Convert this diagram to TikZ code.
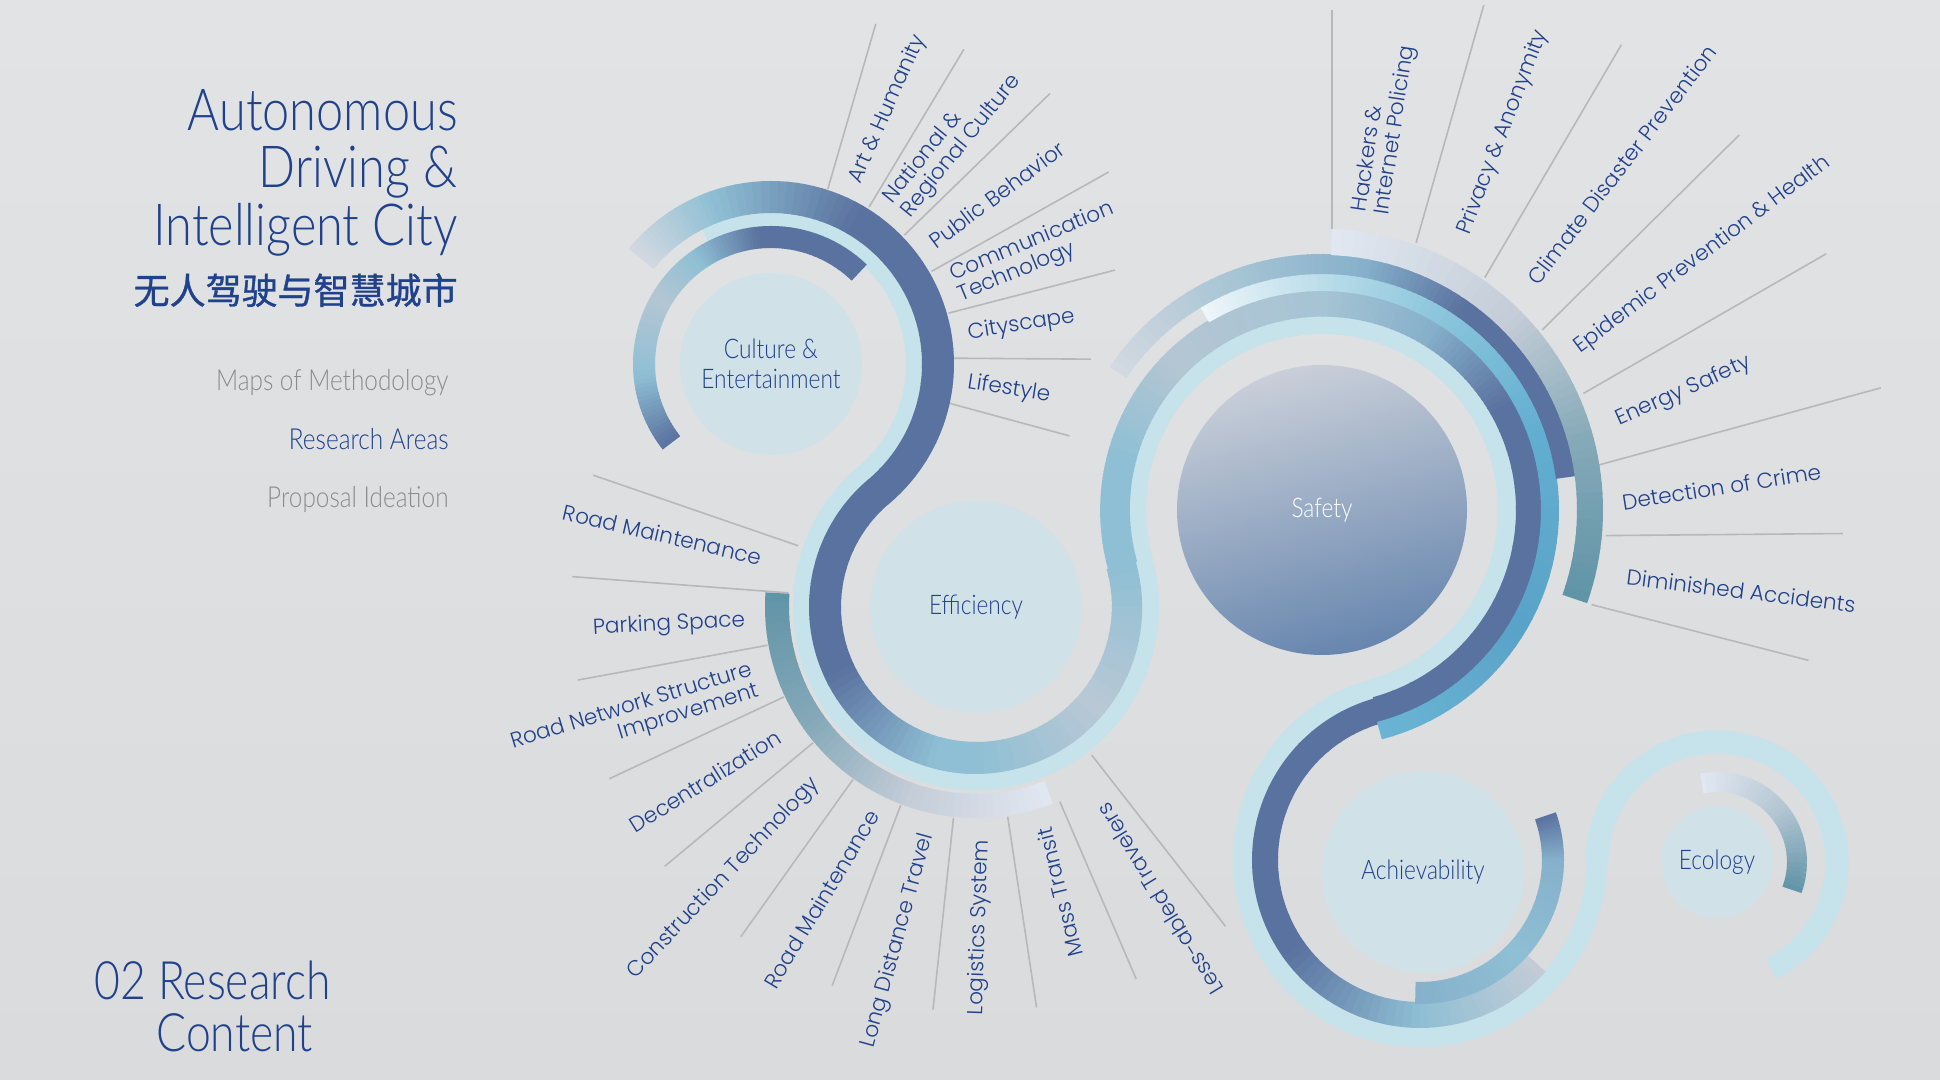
\documentclass[tikz,border=0pt]{standalone}
\usepackage{fontspec}
\usepackage{tikz}

\setmainfont{Lato}
\IfFontExistsTF{Lato Light}{%
  \newfontfamily\thinfont{Lato Light}[FakeStretch=0.84]}{%
  \newfontfamily\thinfont{Lato}[FakeStretch=0.84]}
\IfFontExistsTF{Poppins Light}{%
  \newfontfamily\labfont{Poppins Light}}{%
  \newfontfamily\labfont{Poppins}}
\newfontfamily\cjkfont{Noto Sans CJK SC}[FakeBold=1]

\definecolor{navy}{HTML}{20418B}
\definecolor{menugray}{HTML}{8C8C8C}
\definecolor{spokegray}{HTML}{B7B8BA}
\definecolor{bgtop}{HTML}{E2E3E4}
\definecolor{bgbot}{HTML}{DADBDD}
\definecolor{hubfill}{HTML}{D0E1E7}
\definecolor{bandlight}{HTML}{C6E2EA}
\definecolor{darkband}{HTML}{5A729F}
\definecolor{lblue}{HTML}{8FBFD4}
\definecolor{greyblue}{HTML}{B4C6D3}
\definecolor{pale}{HTML}{A6C4D4}
\definecolor{midblue}{HTML}{86B0CB}
\definecolor{fadegray}{HTML}{D3D9E1}
\definecolor{ashblue}{HTML}{B9C8D5}
\definecolor{teal}{HTML}{5F94A7}
\definecolor{tealgrey}{HTML}{85A9B8}
\definecolor{greyish}{HTML}{C3CCD7}
\definecolor{lav}{HTML}{E2E8F2}
\definecolor{brightA}{HTML}{EEF6FA}
\definecolor{brightB}{HTML}{C2E1EC}
\definecolor{brightC}{HTML}{8CC6DC}
\definecolor{brightD}{HTML}{62AED0}
\definecolor{brightE}{HTML}{5AA3C8}
\definecolor{brightF}{HTML}{6AB4D4}
\definecolor{safTop}{HTML}{C9CFD9}
\definecolor{safMid}{HTML}{90BDD3}
\definecolor{safBot}{HTML}{6786AE}

% arc drawn in short pieces, colour running from #5 to #6
% #1 centre, #2 radius, #3 from angle, #4 to angle, #7/#8 width (pt) at start/end
\newcommand{\gradarc}[8]{%
  \foreach \k in {1,...,18}{%
    \pgfmathsetmacro{\gaA}{(#3)+((#4)-(#3))*(\k-1)/18}%
    \pgfmathsetmacro{\gaB}{(#3)+((#4)-(#3))*\k/18+0.4*sign((#4)-(#3))}%
    \pgfmathtruncatemacro{\gaP}{100*(\k-0.5)/18}%
    \pgfmathsetmacro{\gaW}{(#7)+((#8)-(#7))*(\k-0.5)/18}%
    \colorlet{gaCol}{#6!\gaP!#5}%
    \draw[line width=\gaW pt, draw=gaCol] (#1) ++(\gaA:#2) arc[start angle=\gaA, end angle=\gaB, radius=#2];%
  }%
}

\tikzset{
  spoke/.style={draw=spokegray, line width=0.8pt},
  lab/.style={font=\labfont\fontsize{10.8}{11.2}\selectfont, text=navy, inner sep=0pt},
  hub/.style={circle, fill=hubfill, text=navy, inner sep=0pt, align=center,
    font=\thinfont\fontsize{13.5}{15}\selectfont},
  lightpath/.style={draw=bandlight, line width=10pt},
  menu/.style={font=\thinfont\fontsize{14.5}{16}\selectfont, anchor=base east, inner sep=0pt},
  headline/.style={font=\thinfont\fontsize{29}{30}\selectfont, text=navy, anchor=base east, inner sep=0pt},
}

\begin{document}
\begin{tikzpicture}[x=0.5pt, y=0.5pt]
  \useasboundingbox (0,0) rectangle (1940,1080);
  \shade[top color=bgtop, bottom color=bgbot] (0,0) rectangle (1940,1080);

  % centres of the rings and of the fans
  \coordinate (Cu) at (771,716);
  \coordinate (Ef) at (976,473);
  \coordinate (Sa) at (1322,570);
  \coordinate (Ac) at (1420,220);
  \coordinate (Ec) at (1717,218);
  \coordinate (CT) at (779,723);
  \coordinate (FS) at (1332,542);

  % spokes
  \foreach \a/\l in {73.8/172, 59/184, 44.2/203, 29.3/203, 14.5/172, -0.4/137, -15.2/126}
    \draw[spoke] (CT) ++(\a:175) -- ++(\a:\l);
  \foreach \a/\s/\l in {161/188/217, 175.7/188/217, 190.4/212/193, 205.1/212/193,
      219.8/212/193, 234.5/212/193, 249.2/212/193, 263.9/212/193, 278.6/212/193,
      293.3/212/193, 308/188/217}
    \draw[spoke] (Ef) ++(\a:\s) -- ++(\a:\l);
  \foreach \a/\s/\l in {90/309/219, 74.1/307/247, 59.6/302/270, 44.7/296/277,
      29.9/290/280, 15.3/274/295, 0.5/274/237, -14.4/268/224}
    \draw[spoke] (FS) ++(\a:\s) -- ++(\a:\l);

  % hubs
  \node[hub, minimum size=91pt] (culture) at (Cu) {Culture \&\\Entertainment};
  \node[hub, minimum size=106pt] (efficiency) at (Ef) {Efficiency};
  \node[hub, minimum size=101pt] (achievability) at (1423,208) {Achievability};
  \node[hub, minimum size=56pt] (ecology) at (Ec) {Ecology};
  \shade[top color=safTop, middle color=safMid, bottom color=safBot, shading angle=15]
    (Sa) circle[radius=145];
  \node[hub, fill=none, text=white] (safety) at (Sa) {Safety};

  % light band
  \draw[lightpath] (Cu) ++(117:145) arc[start angle=117, end angle=-49.85, radius=145];
  \draw[lightpath] (Ef) ++(130.15:173) arc[start angle=130.15, end angle=375.66, radius=173];
  \draw[lightpath] (Sa) ++(195.66:186) arc[start angle=195.66, end angle=-74.36, radius=186];
  \draw[lightpath] (Ac) ++(105.64:177) arc[start angle=105.64, end angle=359.61, radius=177];
  \draw[lightpath, line width=11.5pt] (Ec) ++(179.61:120) arc[start angle=179.61, end angle=-63, radius=120];

  % dark band
  \gradarc{Cu}{167}{141}{110}{fadegray}{lblue}{16}{16}
  \gradarc{Cu}{167}{110}{60}{lblue}{darkband}{16}{16}
  \gradarc{Cu}{167}{60}{-49.85}{darkband}{darkband}{16}{16}
  \gradarc{Ef}{151}{130.15}{205}{darkband}{darkband}{16}{16}
  \gradarc{Ef}{151}{205}{255}{darkband}{lblue}{16}{16}
  \gradarc{Ef}{151}{255}{270}{lblue}{lblue}{16}{16}
  \gradarc{Ef}{151}{270}{320}{lblue}{ashblue}{16}{15.5}
  \gradarc{Ef}{151}{320}{375.66}{ashblue}{lblue}{15.5}{15}
  \gradarc{Sa}{207}{195.66}{165}{lblue}{lblue}{15}{14.7}
  \gradarc{Sa}{207}{165}{135}{lblue}{greyblue}{14.7}{14.3}
  \gradarc{Sa}{207}{135}{90}{greyblue}{pale}{14.3}{13.6}
  \gradarc{Sa}{207}{90}{59}{pale}{midblue}{13.6}{13.3}
  \gradarc{Sa}{207}{59}{30}{midblue}{darkband}{13.3}{13}
  \gradarc{Sa}{207}{30}{-74.36}{darkband}{darkband}{13}{13}
  \gradarc{Ac}{155}{105.64}{215}{darkband}{darkband}{13}{13}
  \gradarc{Ac}{155}{215}{270}{darkband}{lblue}{13}{13}
  \gradarc{Ac}{155}{270}{318}{lblue}{greyish}{13}{13}

  % accent arcs
  \gradarc{Cu}{127}{46}{95}{darkband}{darkband}{11}{11}
  \gradarc{Cu}{127}{95}{125}{darkband}{lblue}{11}{11}
  \gradarc{Cu}{127}{125}{150}{lblue}{greyblue}{11}{11}
  \gradarc{Cu}{127}{150}{185}{greyblue}{lblue}{11}{11}
  \gradarc{Cu}{127}{185}{218}{lblue}{darkband}{11}{11}
  \gradarc{Ef}{199}{176}{215}{teal}{tealgrey}{12}{12}
  \gradarc{Ef}{199}{215}{250}{tealgrey}{greyish}{12}{12}
  \gradarc{Ef}{199}{250}{291}{greyish}{lav}{12}{12}
  \gradarc{Sa}{228}{121}{95}{brightA}{brightB}{9}{9}
  \gradarc{Sa}{228}{95}{60}{brightB}{brightC}{9}{9}
  \gradarc{Sa}{228}{60}{20}{brightC}{brightD}{9}{9}
  \gradarc{Sa}{228}{20}{-30}{brightD}{brightE}{9}{9}
  \gradarc{Sa}{228}{-30}{-75}{brightE}{brightF}{9}{9}
  \gradarc{Sa}{246}{146}{110}{fadegray}{pale}{10}{10}
  \gradarc{Sa}{246}{110}{80}{pale}{midblue}{10}{10}
  \gradarc{Sa}{246}{80}{55}{midblue}{darkband}{10}{10}
  \gradarc{Sa}{246}{55}{8}{darkband}{darkband}{10}{10}
  \gradarc{Sa}{268}{88}{45}{lav}{greyish}{13}{13}
  \gradarc{Sa}{268}{45}{15}{greyish}{tealgrey}{13}{13}
  \gradarc{Sa}{268}{15}{-19}{tealgrey}{teal}{13}{13}
  \gradarc{Ac}{133}{-92}{-45}{midblue}{lblue}{11}{11}
  \gradarc{Ac}{133}{-45}{0}{lblue}{midblue}{11}{11}
  \gradarc{Ac}{133}{0}{19}{midblue}{darkband}{11}{11}
  \gradarc{Ec}{80}{101}{40}{lav}{greyblue}{10}{10}
  \gradarc{Ec}{80}{40}{-20}{greyblue}{teal}{10}{10}

  % labels, culture fan
  \foreach \a/\r/\t [count=\i] in {66.4/66/{Art \& Humanity},
      51.6/51/{National \&\\Regional Culture}, 36.8/36.5/{Public Behavior},
      21.9/22.5/{Communication\\Technology}, 7/9/{Cityscape}, -7.8/-9/{Lifestyle}}
    \path (CT) ++(\a:190) node[lab, rotate=\r, anchor=west, align=left] (cul\i) {\t};

  % labels, efficiency fan
  \foreach \a/\d/\r/\t [count=\i] in {167/220/-13/{Road Maintenance},
      183.5/231/3/{Parking Space}, 198.5/233/17/{Road Network Structure\\Improvement},
      213/235/32/{Decentralization}, 227.5/236/46.5/{Construction Technology},
      243.5/229/59/{Road Maintenance}, 258/232/74.5/{Long Distance Travel},
      271.7/233/88/{Logistics System}, 287/231/104/{Mass Transit},
      302.5/235/121.5/{Less-abled Travelers}}
    \path (Ef) ++(\a:\d) node[lab, rotate=\r, anchor=east, align=right] (eff\i) {\t};

  % labels, safety fan
  \foreach \a/\d/\r/\t [count=\i] in {83/327/81.5/{Hackers \&\\Internet Policing},
      66.5/331/69/{Privacy \& Anonymity}, 52/325/52.5/{Climate Disaster Prevention},
      37.5/309/37/{Epidemic Prevention \& Health}, 22.3/308/24/{Energy Safety},
      7/292/9/{Detection of Crime}, -7.5/297/-7/{Diminished Accidents}}
    \path (FS) ++(\a:\d) node[lab, rotate=\r, anchor=west, align=left] (saf\i) {\t};

  % left column
  \node[headline] (title1) at (458,949) {Autonomous};
  \node[headline] (title2) at (458,892) {Driving \&};
  \node[headline] (title3) at (458,834) {Intelligent City};
  \node[anchor=base east, inner sep=0pt, text=navy, font=\cjkfont\fontsize{18}{20}\selectfont]
    (titlecn) at (458,776) {无人驾驶与智慧城市};
  \node[menu, text=menugray] (menu1) at (449,689) {Maps of Methodology};
  \node[menu, text=navy] (menu2) at (449,630) {Research Areas};
  \node[menu, text=menugray] (menu3) at (449,572) {Proposal Ideation};
  \node[anchor=base west, inner sep=0pt, text=navy, font=\thinfont\fontsize{26.5}{27}\selectfont]
    (part1) at (94,80) {02 Research};
  \node[anchor=base west, inner sep=0pt, text=navy, font=\thinfont\fontsize{26.5}{27}\selectfont]
    (part2) at (156,28) {Content};
\end{tikzpicture}
\end{document}
